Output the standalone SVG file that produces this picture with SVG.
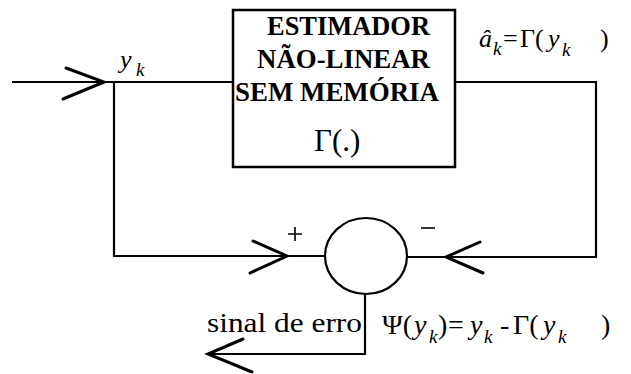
<svg xmlns="http://www.w3.org/2000/svg" width="631" height="374" viewBox="0 0 631 374">
<style>
.ln{fill:none;stroke:#000;stroke-width:2.2}
.ar{fill:none;stroke:#000;stroke-width:3;stroke-linecap:round;stroke-linejoin:miter}
.bx{font-weight:bold;font-size:26.5px}
.it{font-style:italic}
.sub{font-style:italic;font-size:19px}
</style>
<rect width="631" height="374" fill="#fff"/>
<g id="connectors">
<path class="ln" d="M12,82 H233"/>
<path class="ar" d="M66,68 L104,82 L63,99"/>
<path class="ln" d="M114,82 V256 H325"/>
<path class="ar" d="M253,241 L287,256 L250,273"/>
<path class="ln" d="M455,82 H596 V257 H407"/>
<path class="ar" d="M480,242 L446,257 L483,273"/>
<path class="ln" d="M365,294 V354 H208"/>
<path class="ar" d="M243,339 L208,354 L252,372"/>
</g>
<g id="estimador" font-family="Liberation Serif">
<rect x="233" y="10" width="222" height="157" fill="#fff" stroke="#000" stroke-width="2.5"/>
<text class="bx" x="267" y="35" textLength="163" lengthAdjust="spacingAndGlyphs">ESTIMADOR</text>
<text class="bx" x="257" y="68" textLength="173" lengthAdjust="spacingAndGlyphs">NÃO-LINEAR</text>
<text class="bx" x="235" y="101" textLength="204" lengthAdjust="spacingAndGlyphs">SEM MEMÓRIA</text>
<text x="314" y="151" font-size="31">Γ(.)</text>
</g>
<g id="somador">
<ellipse cx="366" cy="256" rx="41" ry="38" fill="#fff" stroke="#000" stroke-width="2.2"/>
<path d="M288,234 H302 M295,227 V241" stroke="#000" stroke-width="1.6" fill="none"/>
<path d="M421,228 H435" stroke="#000" stroke-width="1.6" fill="none"/>
</g>
<g id="labels" font-family="Liberation Serif">
<text class="it" x="120" y="68" font-size="26">y</text>
<text class="sub" x="136" y="76">k</text>
<text class="it" x="479" y="47" font-size="26">â</text>
<text class="sub" x="493" y="55">k</text>
<text x="503" y="47" font-size="26">=</text>
<text x="520" y="47" font-size="26">Γ(</text>
<text class="it" x="548" y="47" font-size="26">y</text>
<text class="sub" x="562" y="56">k</text>
<text x="600" y="47" font-size="26">)</text>
<text x="207" y="332" font-size="28" textLength="155" lengthAdjust="spacingAndGlyphs">sinal de erro</text>
<text x="382" y="334" font-size="28">Ψ(</text>
<text class="it" x="414" y="334" font-size="28">y</text>
<text class="sub" x="429" y="343">k</text>
<text x="438" y="334" font-size="28">)</text>
<text x="448" y="334" font-size="28">=</text>
<text class="it" x="470" y="334" font-size="28">y</text>
<text class="sub" x="484" y="343">k</text>
<text x="500" y="334" font-size="28">-</text>
<text x="513" y="334" font-size="28">Γ(</text>
<text class="it" x="543" y="334" font-size="28">y</text>
<text class="sub" x="558" y="343">k</text>
<text x="601" y="334" font-size="28">)</text>
</g>
</svg>
